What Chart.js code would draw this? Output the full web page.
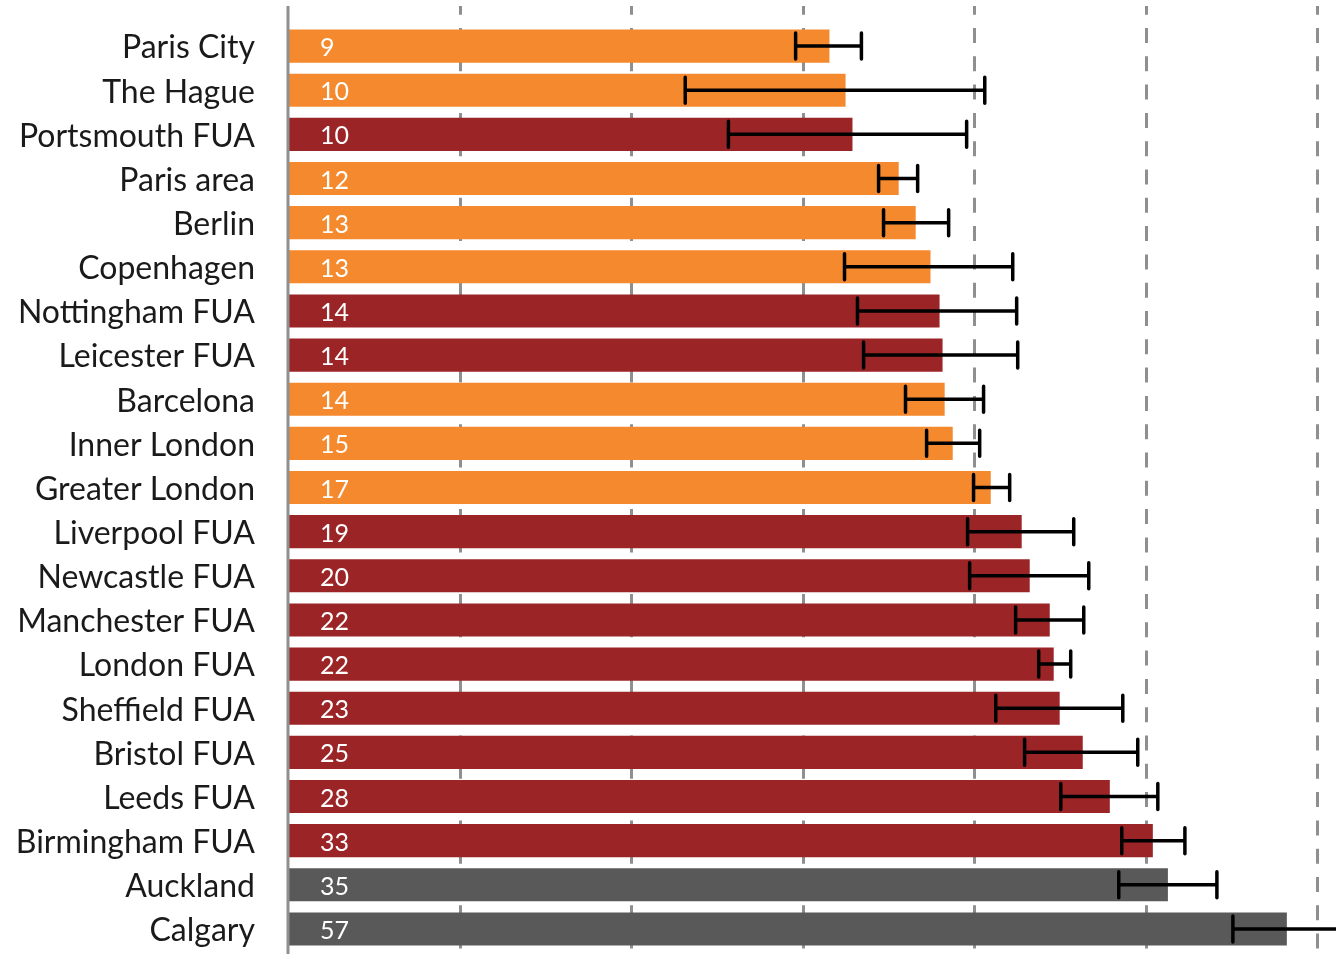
<!DOCTYPE html>
<html>
<head>
<meta charset="utf-8">
<script src="https://cdn.jsdelivr.net/npm/chart.js@4/dist/chart.umd.min.js"></script>
<style>
  html, body { margin: 0; padding: 0; background: #ffffff; }
  #wrap { width: 1336px; height: 954px; }
</style>
</head>
<body>
<div id="wrap"><canvas id="chart" width="1336" height="954"></canvas></div>
<script>
// Areas, from lowest to highest
const categories = [
  'Paris City', 'The Hague', 'Portsmouth FUA', 'Paris area', 'Berlin', 'Copenhagen',
  'Nottingham FUA', 'Leicester FUA', 'Barcelona', 'Inner London', 'Greater London',
  'Liverpool FUA', 'Newcastle FUA', 'Manchester FUA', 'London FUA', 'Sheffield FUA',
  'Bristol FUA', 'Leeds FUA', 'Birmingham FUA', 'Auckland', 'Calgary'
];

// Group of each area: city / uk (functional urban area) / other
const groups = [
  'city', 'city', 'uk', 'city', 'city', 'city',
  'uk', 'uk', 'city', 'city', 'city',
  'uk', 'uk', 'uk', 'uk', 'uk',
  'uk', 'uk', 'uk', 'other', 'other'
];

// Central estimate
const values = [
  8.92, 9.52, 9.79, 11.80, 12.64, 13.42,
  13.92, 14.09, 14.21, 14.68, 17.12,
  19.40, 20.04, 21.73, 22.08, 22.62,
  24.83, 27.70, 32.96, 35.03, 56.65
];

// Lower and upper bounds of the interval
const lowerBounds = [
  7.78, 4.98, 5.93, 10.88, 11.10, 9.48,
  9.99, 10.24, 12.13, 13.21, 15.97,
  15.59, 15.72, 18.93, 20.78, 17.47,
  19.63, 22.72, 29.07, 28.72, 45.55
];
const upperBounds = [
  10.15, 16.71, 15.53, 12.74, 14.44, 18.71,
  19.01, 19.09, 16.63, 16.37, 18.48,
  23.94, 25.44, 24.93, 23.65, 29.19,
  31.01, 33.63, 37.52, 42.70, 75.00
];

// Dashed reference lines on the value axis (doubling steps)
const gridValues = [2, 4, 8, 16, 32, 64];

const groupColors = { city: '#F4892E', uk: '#9B2427', other: '#595959' };
const FONT = 'Lato, "Open Sans", "DejaVu Sans", sans-serif';

// Axis line and dashed grid, drawn behind the bars
const backdrop = {
  id: 'backdrop',
  beforeDatasetsDraw(chart) {
    const { ctx, chartArea, scales } = chart;
    const top = chartArea.top - 18;
    const bottom = chart.height;
    ctx.save();
    ctx.strokeStyle = '#8F8F8F';
    ctx.lineWidth = 3;
    ctx.setLineDash([15, 13.3]);
    ctx.lineDashOffset = 6.3;
    gridValues.forEach(v => {
      const x = Math.round(scales.x.getPixelForValue(v)) + 0.5;
      ctx.beginPath();
      ctx.moveTo(x, top);
      ctx.lineTo(x, bottom);
      ctx.stroke();
    });
    ctx.restore();
  },
  afterDatasetsDraw(chart) {
    const { ctx, chartArea } = chart;
    ctx.save();
    ctx.strokeStyle = '#8F8F8F';
    ctx.lineWidth = 3;
    ctx.beginPath();
    ctx.moveTo(chartArea.left, chartArea.top - 18);
    ctx.lineTo(chartArea.left, chart.height);
    ctx.stroke();
    ctx.restore();
  }
};

// Interval whiskers and value labels on top of the bars
const overlays = {
  id: 'overlays',
  afterDatasetsDraw(chart) {
    const { ctx, chartArea, scales } = chart;
    const meta = chart.getDatasetMeta(0);
    ctx.save();
    ctx.strokeStyle = '#000000';
    ctx.lineWidth = 3.5;
    ctx.lineCap = 'round';
    meta.data.forEach((bar, i) => {
      const y = bar.y;
      const x1 = scales.x.getPixelForValue(lowerBounds[i]);
      const x2 = scales.x.getPixelForValue(upperBounds[i]);
      ctx.beginPath();
      ctx.moveTo(x1, y);
      ctx.lineTo(x2, y);
      ctx.moveTo(x1, y - 13);
      ctx.lineTo(x1, y + 13);
      ctx.moveTo(x2, y - 13);
      ctx.lineTo(x2, y + 13);
      ctx.stroke();
    });
    ctx.fillStyle = '#FFFFFF';
    ctx.font = '25px ' + FONT;
    ctx.textAlign = 'left';
    ctx.textBaseline = 'middle';
    meta.data.forEach((bar, i) => {
      ctx.fillText(String(Math.round(values[i])), chartArea.left + 32, bar.y + 2);
    });
    ctx.restore();
  }
};

function draw() {
  new Chart(document.getElementById('chart'), {
    type: 'bar',
    data: {
      labels: categories,
      datasets: [{
        data: values,
        backgroundColor: groups.map(g => groupColors[g]),
        borderWidth: 0,
        barPercentage: 0.75,
        categoryPercentage: 1.0
      }]
    },
    options: {
      indexAxis: 'y',
      responsive: false,
      animation: false,
      layout: { padding: { top: 24, bottom: 3, left: 0, right: 0 } },
      plugins: { legend: { display: false }, tooltip: { enabled: false } },
      scales: {
        x: {
          type: 'logarithmic',
          min: 1,
          max: 69.1,
          display: false
        },
        y: {
          type: 'category',
          position: 'left',
          grid: { display: false },
          border: { display: false },
          ticks: {
            autoSkip: false,
            padding: 25,
            labelOffset: 2,
            color: '#1A1A1A',
            font: { family: FONT, size: 32 }
          },
          afterFit(scale) {
            scale.width = 288;
            scale.paddingTop = 0;
            scale.paddingBottom = 0;
          }
        }
      }
    },
    plugins: [backdrop, overlays]
  });
}

if (document.fonts && document.fonts.load) {
  Promise.all([document.fonts.load('32px Lato'), document.fonts.load('25px Lato')])
    .then(draw, draw);
} else {
  draw();
}
</script>
</body>
</html>
